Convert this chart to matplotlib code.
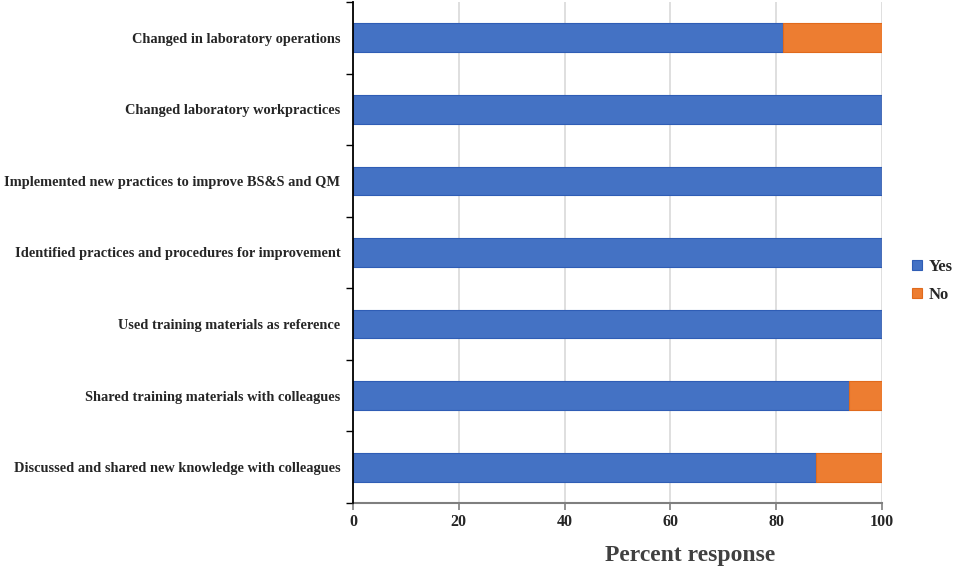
import matplotlib
matplotlib.use('Agg')
import matplotlib.pyplot as plt
import numpy as np

# categories listed bottom to top
categories = [
    'Discussed and shared new knowledge with colleagues',
    'Shared training materials with colleagues',
    'Used training materials as reference',
    'Identified practices and procedures for improvement',
    'Implemented new practices to improve BS&S and QM',
    'Changed laboratory workpractices',
    'Changed in laboratory operations',
]
yes_vals = [87.5, 93.75, 100, 100, 100, 100, 81.25]
no_vals = [12.5, 6.25, 0, 0, 0, 0, 18.75]
x_ticks = [0, 20, 40, 60, 80, 100]

plt.rcParams['font.family'] = ['Liberation Serif', 'DejaVu Serif']

fig = plt.figure(figsize=(9.57, 5.75), dpi=100)
ax = fig.add_axes([353/957, 1 - 503/575, 529/957, 501/575])

y = np.arange(len(categories))
ax.barh(y, yes_vals, height=0.4, color='#4472C4', edgecolor='#2F5DB5',
        linewidth=0.8, label='Yes', zorder=3)
ax.barh(y, no_vals, height=0.4, left=yes_vals, color='#ED7D31',
        edgecolor='#E06A1C', linewidth=0.8, label='No', zorder=3)

ax.set_xlim(0, 100)
ax.set_ylim(-0.5, len(categories) - 0.5)
ax.set_xticks(x_ticks)
ax.set_xticklabels([str(v) for v in x_ticks], fontsize=11.5,
                   fontweight='bold', color='#262626')
ax.grid(axis='x', color='#d9d9d9', linewidth=1.2, zorder=0)

# category labels centred, tick marks on boundaries
ax.set_yticks(y)
ax.set_yticklabels(categories, fontsize=10.4, fontweight='bold', color='#262626')
ax.tick_params(axis='y', length=0, pad=9)
ax.set_yticks(np.arange(-0.5, len(categories)), minor=True)
ax.tick_params(axis='y', which='minor', length=5, width=1.0, color='black')
ax.tick_params(axis='x', length=5, width=1.2, color='#7f7f7f', pad=3)

for s in ['top', 'right']:
    ax.spines[s].set_visible(False)
ax.spines['left'].set_color('black')
ax.spines['left'].set_linewidth(1.3)
ax.spines['bottom'].set_color('#7f7f7f')
ax.spines['bottom'].set_linewidth(1.5)
ax.spines['left'].set_zorder(4)

fig.text(690/957, 1 - 556/575, 'Percent response', fontsize=17,
         fontweight='bold', color='#404040', ha='center', va='center')

leg = ax.legend(loc='center left', bbox_to_anchor=(1.045, 0.443), frameon=False,
                handlelength=0.55, handleheight=0.55, handletextpad=0.45,
                labelspacing=0.75, borderaxespad=0.0,
                prop={'weight': 'bold', 'size': 12})
for t in leg.get_texts():
    t.set_color('#262626')

fig.savefig('out.png', dpi=100, facecolor='white')
